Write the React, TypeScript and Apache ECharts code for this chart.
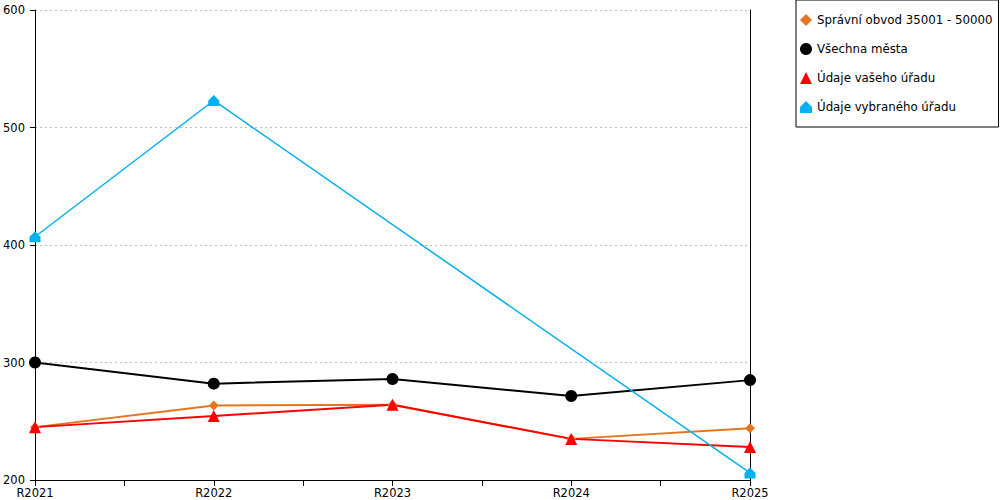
import React, { useEffect, useRef } from "react";
import * as echarts from "echarts";

const categories = ["R2021", "R2022", "R2023", "R2024", "R2025"];
const seriesNames = [
  "Správní obvod 35001 - 50000",
  "Všechna města",
  "Údaje vašeho úřadu",
  "Údaje vybraného úřadu",
];
const obvodValues = [245, 263.5, 264, 235, 244];
const vsechnaValues = [300, 282, 286, 271.5, 285];
const vasehoValues = [245, 254.5, 264, 235, 228];
const vybranehoValues: (number | null)[] = [407, 523, null, null, 206];
const yTicks = { min: 200, max: 600, interval: 100 };

const colors = ["#E5751F", "#000000", "#FF0000", "#00B0F0"];
const housePath = "path://M5,0 L10,5 L10,10 L0,10 L0,5 Z";
const symbols = ["diamond", "circle", "triangle", housePath];
const symbolSizes = [10, 12, 12, 11];
const FONT = "DejaVu Sans";
const FS = 11.5;

export default function App() {
  const ref = useRef<HTMLDivElement>(null);
  useEffect(() => {
    document.body.style.margin = "0";
    if (!ref.current) return;
    const chart = echarts.init(ref.current, undefined, { renderer: "svg" });
    const all = [obvodValues, vsechnaValues, vasehoValues, vybranehoValues];
    chart.setOption({
      animation: false,
      backgroundColor: "#ffffff",
      textStyle: { fontFamily: FONT },
      grid: { left: 35, right: 250, top: 10, bottom: 20, containLabel: false },
      legend: {
        orient: "vertical",
        left: 796,
        top: 0,
        padding: [14, 6, 14, 4],
        itemGap: 17,
        itemWidth: 12,
        itemHeight: 12,
        borderColor: "#000",
        borderWidth: 1,
        backgroundColor: "#fff",
        textStyle: { fontFamily: FONT, fontSize: 11.8, color: "#000" },
        data: seriesNames.map((n, i) => ({ name: n, icon: symbols[i] })),
      },
      xAxis: {
        type: "value",
        min: 0,
        max: categories.length - 1,
        interval: 0.5,
        axisLine: { show: true, lineStyle: { color: "#000", width: 1 } },
        axisTick: { show: true, inside: false, length: 6, lineStyle: { color: "#000" } },
        axisLabel: {
          margin: 7,
          fontFamily: FONT,
          fontSize: FS,
          color: "#000",
          showMinLabel: true,
          showMaxLabel: true,
          formatter: (v: number) => (Number.isInteger(v) ? categories[v] : ""),
        },
        splitLine: { show: false },
      },
      yAxis: [
        {
          type: "value",
          min: yTicks.min,
          max: yTicks.max,
          interval: yTicks.interval,
          axisLine: { show: true, lineStyle: { color: "#000", width: 1 } },
          axisTick: { show: true, inside: false, length: 5, lineStyle: { color: "#000" } },
          axisLabel: { margin: 10, fontFamily: FONT, fontSize: FS, color: "#000" },
          splitLine: { show: true, lineStyle: { color: "#c0c0c0", type: [2, 3], width: 1 } },
        },
        {
          type: "value",
          position: "right",
          min: yTicks.min,
          max: yTicks.max,
          interval: yTicks.interval,
          axisLine: { show: true, lineStyle: { color: "#000", width: 1 } },
          axisTick: { show: false },
          axisLabel: { show: false },
          splitLine: { show: false },
        },
      ],
      series: seriesNames.map((n, i) => ({
        name: n,
        type: "line",
        yAxisIndex: 0,
        data: all[i].map((v, j) => [j, v]),
        connectNulls: true,
        symbol: symbols[i],
        symbolSize: symbolSizes[i],
        showAllSymbol: true,
        lineStyle: { color: colors[i], width: i === 3 ? 1.5 : 2 },
        itemStyle: { color: colors[i] },
      })),
    });
    return () => chart.dispose();
  }, []);
  return <div ref={ref} style={{ width: 1000, height: 500 }} />;
}
